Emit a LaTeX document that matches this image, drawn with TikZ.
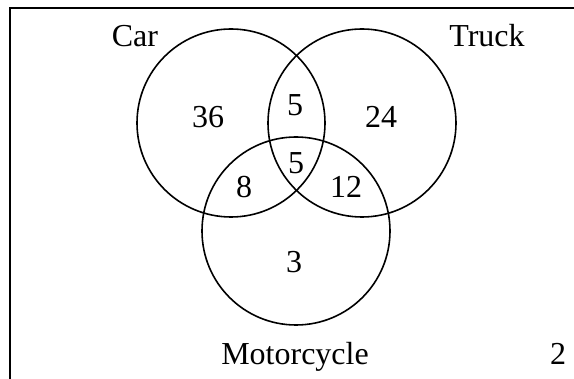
\documentclass[tikz,border=0pt]{standalone}
\usepackage{fontspec}
\setmainfont{Liberation Serif}
\begin{document}
\begin{tikzpicture}[x=1pt,y=-1pt,
  ring/.style={draw=black,line width=1.6pt},
  lab/.style={inner sep=0pt,font=\fontsize{32}{38}\selectfont},
  baselab/.style={lab,anchor=base}]
\useasboundingbox (0,0) rectangle (574,379);
\clip (0,0) rectangle (574,379);
\fill[white] (0,0) rectangle (574,379);
\draw[line width=1.8pt] (10,420) -- (10,8) -- (620,8);
\draw[ring] (231,123) circle[radius=94];
\draw[ring] (362,123) circle[radius=94];
\draw[ring] (296,231) circle[radius=94];
\node[baselab] (car) at (135,47) {Car};
\node[baselab] (truck) at (487,47) {Truck};
\node[baselab] (moto) at (295,365) {Motorcycle};
\node[baselab] (none) at (558,365) {2};
\node[lab] (c) at (208,117) {36};
\node[lab] (ct) at (295,105) {5};
\node[lab] (t) at (381,117) {24};
\node[lab] (ctm) at (296,163) {5};
\node[lab] (cm) at (244,187) {8};
\node[lab] (tm) at (346,187) {12};
\node[lab] (m) at (294,262) {3};
\end{tikzpicture}
\end{document}
